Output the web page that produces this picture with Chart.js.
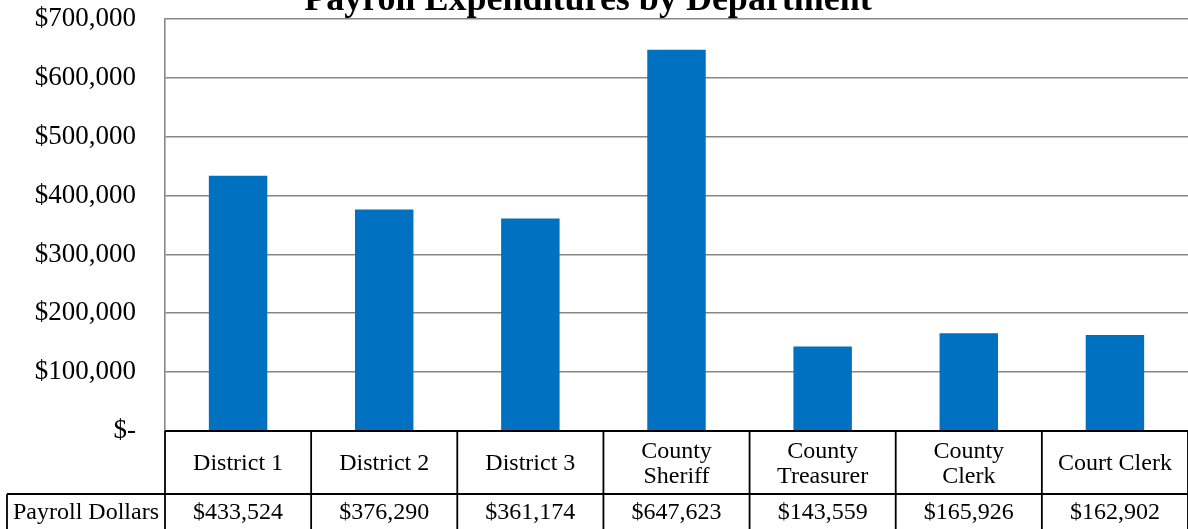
<!DOCTYPE html>
<html>
<head>
<meta charset="utf-8">
<title>Payroll Expenditures by Department</title>
<script src="https://cdn.jsdelivr.net/npm/chart.js@4/dist/chart.umd.min.js"></script>
<style>
  html, body { margin: 0; padding: 0; background: #fff; }
  #wrap { width: 1188px; height: 529px; position: relative; }
</style>
</head>
<body>
<div id="wrap"><canvas id="chart-payroll"></canvas></div>
<script>
// chart data
var departments = [["District 1"], ["District 2"], ["District 3"], ["County", "Sheriff"],
                   ["County", "Treasurer"], ["County", "Clerk"], ["Court Clerk"]];
var payrollDollars = [433524, 376290, 361174, 647623, 143559, 165926, 162902];
var seriesName = "Payroll Dollars";
var chartTitle = "Payroll Expenditures by Department";

var serif = "'Liberation Serif', 'Times New Roman', serif";

function money(v) {
  if (v === 0) return "$-";
  return "$" + v.toLocaleString("en-US");
}

// title + data table under the plot, drawn after the chart
var tablePlugin = {
  id: "dataTable",
  afterDraw: function(chart) {
    var ctx = chart.ctx;
    var area = chart.chartArea;
    var xs = chart.scales.x;
    var n = departments.length;
    var colW = (area.right - area.left) / n;
    var top = area.bottom;
    var mid = top + 63;
    var bottom = chart.height + 2;
    ctx.save();

    // title (cut off at the top, like the original)
    ctx.fillStyle = "#000";
    ctx.font = "bold 36px " + serif;
    ctx.textAlign = "center";
    ctx.textBaseline = "alphabetic";
    ctx.fillText(chartTitle, 588, 10);

    // table lines
    ctx.strokeStyle = "#000";
    ctx.lineWidth = 1.8;
    ctx.beginPath();
    ctx.moveTo(area.left, top); ctx.lineTo(area.right, top);
    ctx.moveTo(7, mid); ctx.lineTo(area.right, mid);
    ctx.moveTo(7, mid); ctx.lineTo(7, bottom);
    for (var i = 0; i <= n; i++) {
      var x = area.left + i * colW;
      ctx.moveTo(x, top); ctx.lineTo(x, bottom);
    }
    ctx.stroke();

    // text
    ctx.font = "24px " + serif;
    ctx.textBaseline = "middle";
    for (var j = 0; j < n; j++) {
      var cx = xs.getPixelForValue(j);
      var lines = departments[j];
      var cy = top + 33;
      for (var k = 0; k < lines.length; k++) {
        var ly = cy + (k - (lines.length - 1) / 2) * 25;
        ctx.fillText(lines[k], cx, ly);
      }
      ctx.fillText(money(payrollDollars[j]), cx, mid + 19);
    }
    ctx.fillText(seriesName, (7 + area.left) / 2, mid + 19);
    ctx.restore();
  }
};

var htmlTag = document.getElementById("chart-payroll");
var chartPayroll = new Chart(htmlTag, {
  type: "bar",
  data: {
    labels: departments,
    datasets: [{
      label: seriesName,
      data: payrollDollars,
      backgroundColor: "#0070C0",
      categoryPercentage: 1,
      barPercentage: 0.4
    }]
  },
  options: {
    responsive: true,
    maintainAspectRatio: false,
    animation: false,
    layout: { padding: { left: 0, right: 0, top: 19, bottom: 98 } },
    plugins: {
      legend: { display: false },
      title: { display: false },
      tooltip: { enabled: false }
    },
    scales: {
      x: { display: false },
      y: {
        min: 0,
        max: 700000,
        ticks: {
          stepSize: 100000,
          padding: 29,
          color: "#000",
          font: { family: serif, size: 27 },
          callback: function(v) { return money(v); }
        },
        grid: { color: "#878787", lineWidth: 1.6, drawTicks: false },
        border: { display: true, color: "#878787", width: 1.6 },
        afterFit: function(scale) {
          scale.width = 165;
          scale.paddingTop = 0;
          scale.paddingBottom = 0;
        }
      }
    }
  },
  plugins: [tablePlugin]
});
</script>
</body>
</html>
